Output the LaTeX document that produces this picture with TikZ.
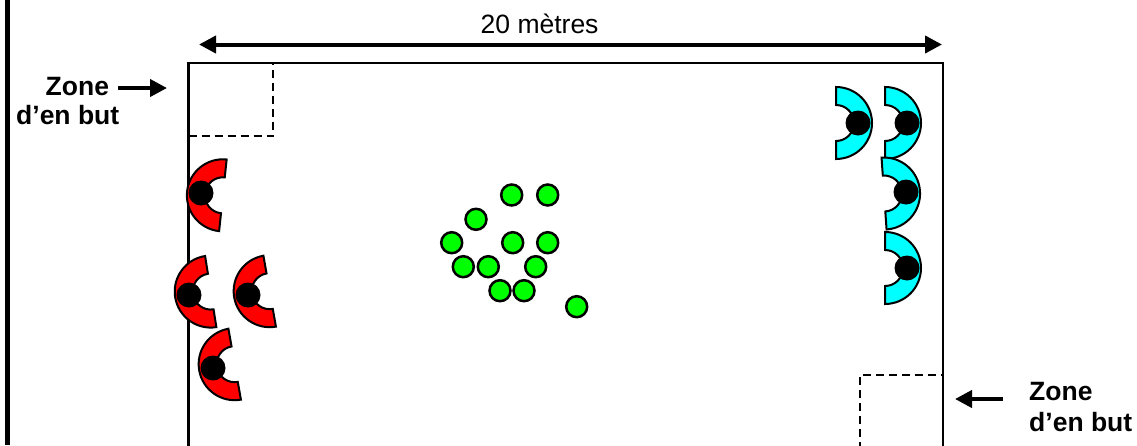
\documentclass[tikz,border=0pt]{standalone}
\usepackage{fontspec}
\setmainfont{Liberation Sans}
\usetikzlibrary{arrows.meta}
\definecolor{rouge}{RGB}{255,0,0}
\definecolor{turquoise}{RGB}{0,255,255}
\definecolor{vert}{RGB}{0,255,0}

% joueur : nom, position, angle, couleur
\newcommand{\joueur}[4]{%
  \begin{scope}[shift={(#2)}, rotate=#3]
    \draw[fill=#4, line width=2pt] (22,36) arc[start angle=90, end angle=270, radius=36]
      -- (22,-18) arc[start angle=270, end angle=90, radius=18] -- cycle;
    \node[pion] (#1) at (0,0) {};
  \end{scope}}

\begin{document}
\begin{tikzpicture}[x=1pt, y=-1pt,
  pion/.style={circle, fill=black, minimum size=25pt, inner sep=0pt},
  balle/.style={circle, draw, fill=vert, line width=2.5pt, minimum size=21pt, inner sep=0pt},
  etiq/.style={anchor=base west, inner sep=0pt, font=\fontsize{26.5pt}{30pt}\selectfont},
  gras/.style={etiq, font=\fontsize{26.5pt}{30pt}\selectfont\bfseries},
  limite/.style={line width=2.8pt, dash pattern=on 8pt off 5pt},
  fleche/.style={line width=4pt, -{Triangle[length=17pt, width=17pt]}}]
\clip (0,0) rectangle (1137,445);
\draw[line width=5pt] (7,0) -- (7,445);
\draw[line width=2.6pt] (188.5,480) |- (943,63) -- (943,480);
\draw[limite] (188.5,136) -- (273,136) -- (273,63);
\draw[limite] (860,450) -- (860,375) -- (943,375);
% largeur du terrain
\coordinate (gauche) at (199,44.5);
\coordinate (droite) at (942,44.5);
\draw[fleche, {Triangle[length=17pt, width=17pt]}-{Triangle[length=17pt, width=17pt]}] (gauche) -- (droite);
\node[etiq] (largeur) at (480.5,33.3) {20 mètres};
% zones d'en but
\node[gras] (zoneA) at (45.5,95) {Zone};
\node[gras] (butA) at (16,124) {d’en but};
\coordinate (queueA) at (118,88);
\coordinate (pointeA) at (167,88);
\draw[fleche] (queueA) -- (pointeA);
\node[gras] (zoneB) at (1029,400) {Zone};
\node[gras] (butB) at (1029,431) {d’en but};
\coordinate (queueB) at (1003,399);
\coordinate (pointeB) at (955,399);
\draw[fleche] (queueB) -- (pointeB);
% joueurs
\joueur{r1}{201,193}{-6}{rouge}
\joueur{r2}{189,295}{9}{rouge}
\joueur{r3}{248,295}{10}{rouge}
\joueur{r4}{213,368}{10}{rouge}
\joueur{c1}{858,123}{180}{turquoise}
\joueur{c2}{907,123}{180}{turquoise}
\joueur{c3}{906,192}{184}{turquoise}
\joueur{c4}{907,268}{180}{turquoise}
% ballons
\foreach \p [count=\i] in {(511.7,195), (547.7,195), (476,219.3), (451.7,242.7),
    (512.7,242.7), (547.7,242.7), (463.3,266.7), (488.3,266.7), (535.7,266.7),
    (500,290.7), (524,290.7), (576.7,306.7)}
  \node[balle] (b\i) at \p {};
\end{tikzpicture}
\end{document}
